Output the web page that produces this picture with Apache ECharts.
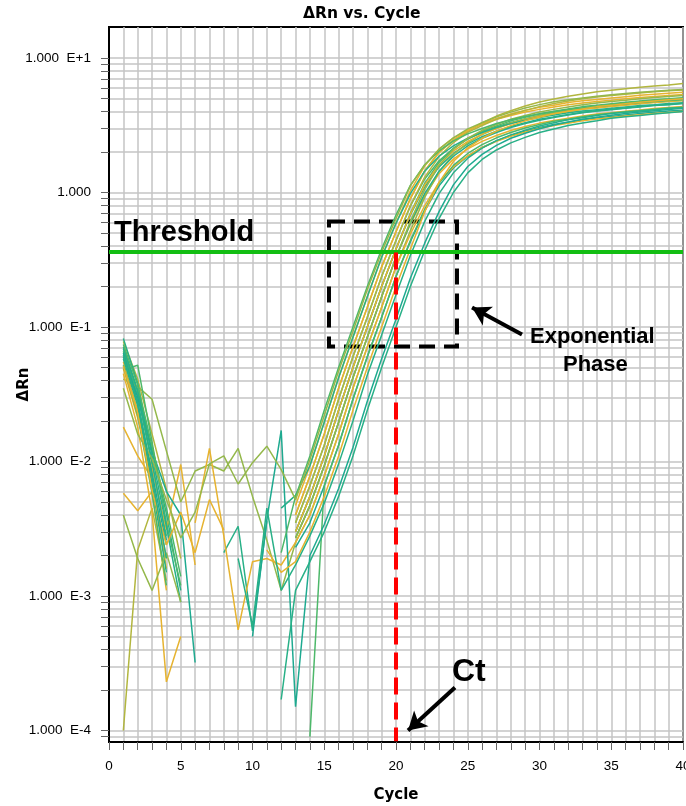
<!DOCTYPE html>
<html>
<head>
<meta charset="utf-8">
<title>ΔRn vs. Cycle</title>
<script src="https://cdn.jsdelivr.net/npm/echarts@6/dist/echarts.min.js"></script>
<style>
    html, body { margin: 0; padding: 0; background: #fff; }
    #ampChart { width: 686px; height: 806px; }
</style>
</head>
<body>
<div id="ampChart"></div>
<script>
    // x: PCR cycles
    const cycles = [1, 2, 3, 4, 5, 6, 7, 8, 9, 10, 11, 12, 13, 14, 15, 16, 17, 18, 19, 20,
        21, 22, 23, 24, 25, 26, 27, 28, 29, 30, 31, 32, 33, 34, 35, 36, 37, 38, 39, 40]

    // tick labels
    const xLabelTicks = [0, 5, 10, 15, 20, 25, 30, 35, 40]
    const decadeTicks = [1e-4, 1e-3, 1e-2, 1e-1, 1, 10]
    const decadeLabels = ['1.000  E-4', '1.000  E-3', '1.000  E-2', '1.000  E-1', '1.000', '1.000  E+1']

    // annotations (data units)
    const threshold = 0.358
    const ctCycle = 20
    const expBox = [[15.33, 0.609], [24.25, 0.0716]]
    const expArrow = [[28.78, 0.0879], [25.3, 0.1396]]
    const ctArrow = [[24.11, 0.000209], [20.84, 0.0001]]

    // ΔRn per well, one value per cycle (null = below zero, not drawn on log scale)
    const rn01 = [0.055, 0.024, 0.0072, 0.0019, null, null, null, null, null, null, null, null, 0.0047,
        0.0093, 0.0196, 0.042, 0.084, 0.168, 0.33, 0.59, 1.03, 1.58, 2.1, 2.55, 2.91, 3.21, 3.5, 3.74,
        3.97, 4.15, 4.32, 4.5, 4.63, 4.75, 4.86, 4.98, 5.09, 5.18, 5.27, 5.35]
    const rn02 = [0.078, 0.041, 0.016, 0.0062, 0.0019, null, null, null, null, null, null, null, 0.004,
        0.0078, 0.016, 0.035, 0.071, 0.14, 0.28, 0.51, 0.9, 1.45, 2.0, 2.45, 2.85, 3.3, 3.7, 4.05,
        4.4, 4.7, 4.95, 5.2, 5.4, 5.6, 5.75, 5.9, 6.05, 6.2, 6.3, 6.45]
    const rn03 = [0.066, 0.031, 0.0095, 0.0028, null, null, null, null, null, null, null, null, 0.0035,
        0.0066, 0.0132, 0.029, 0.06, 0.118, 0.237, 0.44, 0.79, 1.26, 1.72, 2.13, 2.5, 2.8, 3.07, 3.31,
        3.52, 3.72, 3.87, 4.03, 4.18, 4.28, 4.39, 4.49, 4.6, 4.69, 4.77, 4.84]
    const rn04 = [0.071, 0.034, 0.012, 0.0041, 0.0011, null, null, null, null, null, null, null, 0.003,
        0.0055, 0.011, 0.024, 0.05, 0.1, 0.2, 0.38, 0.68, 1.1, 1.55, 1.95, 2.3, 2.6, 2.85, 3.1,
        3.3, 3.5, 3.65, 3.8, 3.95, 4.05, 4.15, 4.25, 4.35, 4.45, 4.52, 4.6]
    const rn05 = [0.049, 0.021, 0.0088, 0.0031, 0.0095, 0.0017, null, null, null, null, null, null, 0.0027,
        0.0047, 0.0093, 0.0196, 0.042, 0.084, 0.168, 0.33, 0.58, 0.95, 1.38, 1.77, 2.11, 2.4, 2.65, 2.89,
        3.09, 3.28, 3.43, 3.57, 3.71, 3.83, 3.92, 4.02, 4.11, 4.21, 4.28, 4.35]
    const rn06 = [0.041, 0.036, 0.029, 0.012, 0.005, 0.0085, 0.0095, 0.0085, 0.0125, 0.0055, 0.0026, 0.0011, 0.0025,
        0.004, 0.0078, 0.016, 0.035, 0.071, 0.14, 0.28, 0.52, 0.92, 1.43, 1.92, 2.34, 2.7, 3.0, 3.28,
        3.52, 3.74, 3.94, 4.09, 4.27, 4.4, 4.51, 4.62, 4.73, 4.84, 4.93, 5.02]
    const rn07 = [0.06, 0.03, 0.012, 0.006, 0.004, 0.00032, null, null, null, null, null, null, 0.0023,
        0.0035, 0.0066, 0.0132, 0.029, 0.06, 0.118, 0.237, 0.43, 0.73, 1.12, 1.52, 1.86, 2.16, 2.42, 2.65,
        2.86, 3.04, 3.2, 3.33, 3.47, 3.59, 3.68, 3.77, 3.86, 3.95, 4.03, 4.09]
    const rn08 = [0.018, 0.011, 0.0075, 0.0016, null, null, null, null, null, null, null, null, 0.004,
        0.0078, 0.016, 0.035, 0.071, 0.14, 0.28, 0.51, 0.9, 1.44, 1.98, 2.45, 2.88, 3.24, 3.55, 3.84,
        4.08, 4.3, 4.46, 4.66, 4.8, 4.92, 5.04, 5.16, 5.28, 5.38, 5.47, 5.56]
    const rn09 = [0.048, 0.052, 0.014, 0.0035, 0.0012, null, null, null, null, null, null, null, 0.003,
        0.0055, 0.011, 0.024, 0.05, 0.1, 0.2, 0.38, 0.7, 1.17, 1.67, 2.12, 2.51, 2.85, 3.13, 3.41,
        3.63, 3.85, 4.02, 4.18, 4.35, 4.46, 4.57, 4.68, 4.79, 4.9, 4.97, 5.06]
    const rn10 = [0.058, 0.026, 0.0068, 0.0015, null, null, null, 0.0021, 0.0033, 0.00055, 0.0036, null, 0.0027,
        0.0047, 0.0093, 0.0196, 0.042, 0.084, 0.168, 0.33, 0.59, 0.98, 1.44, 1.86, 2.22, 2.53, 2.79, 3.04,
        3.25, 3.45, 3.61, 3.76, 3.91, 4.03, 4.13, 4.23, 4.33, 4.43, 4.5, 4.58]
    const rn11 = [0.0058, 0.0043, 0.006, 0.0011, null, 0.0035, 0.0125, 0.0028, 0.00056, 0.0018, 0.0019, 0.0017, 0.0025,
        0.004, 0.0078, 0.016, 0.035, 0.071, 0.14, 0.28, 0.49, 0.8, 1.19, 1.55, 1.87, 2.16, 2.4, 2.62,
        2.82, 2.99, 3.15, 3.27, 3.41, 3.52, 3.61, 3.7, 3.78, 3.87, 3.94, 4.01]
    const rn12 = [0.0001, 0.0022, 0.0045, 0.0013, null, null, null, null, null, null, null, null, 0.0035,
        0.0066, 0.0132, 0.029, 0.06, 0.118, 0.237, 0.44, 0.8, 1.3, 1.85, 2.35, 2.8, 3.15, 3.5, 3.8,
        4.08, 4.35, 4.58, 4.78, 4.97, 5.12, 5.26, 5.38, 5.5, 5.6, 5.7, 5.78]
    const rn13 = [0.052, 0.022, 0.0058, 0.0012, null, null, null, null, null, null, null, null, null,
        0.00009, 0.0066, 0.0132, 0.029, 0.06, 0.118, 0.237, 0.44, 0.75, 1.17, 1.59, 1.95, 2.27, 2.55, 2.79,
        3.02, 3.2, 3.38, 3.51, 3.66, 3.78, 3.88, 3.98, 4.07, 4.16, 4.25, 4.31]
    const rn14 = [0.045, 0.018, 0.0042, 0.00023, 0.0005, null, null, null, null, null, null, null, 0.003,
        0.0055, 0.011, 0.024, 0.05, 0.1, 0.2, 0.38, 0.69, 1.14, 1.61, 2.03, 2.4, 2.72, 2.99, 3.26,
        3.47, 3.68, 3.83, 3.99, 4.15, 4.25, 4.36, 4.46, 4.57, 4.67, 4.75, 4.83]
    const rn15 = [0.082, 0.038, 0.011, 0.0033, 0.0009, null, null, null, null, null, null, 0.0045, 0.0056,
        0.0093, 0.0196, 0.042, 0.084, 0.168, 0.33, 0.59, 0.98, 1.44, 1.86, 2.22, 2.53, 2.79, 3.04, 3.25,
        3.45, 3.61, 3.76, 3.91, 4.03, 4.13, 4.23, 4.33, 4.43, 4.5, 4.58, 4.65]
    const rn16 = [0.064, 0.028, 0.0082, 0.0024, null, null, null, null, null, 0.0005, 0.0037, 0.017, 0.00015,
        0.002, 0.0034, 0.0063, 0.0127, 0.028, 0.058, 0.114, 0.23, 0.42, 0.72, 1.14, 1.56, 1.92, 2.24, 2.53,
        2.76, 2.98, 3.17, 3.34, 3.5, 3.63, 3.76, 3.87, 3.96, 4.06, 4.14, 4.23]
    const rn17 = [0.069, 0.033, 0.01, 0.0026, null, null, null, null, null, null, null, 0.00017, 0.0011,
        0.0018, 0.003, 0.0055, 0.011, 0.024, 0.05, 0.1, 0.2, 0.37, 0.64, 1.0, 1.4, 1.76, 2.07, 2.34,
        2.57, 2.79, 2.97, 3.15, 3.29, 3.42, 3.56, 3.65, 3.74, 3.83, 3.92, 4.0]
    const rn18 = [0.004, 0.0019, 0.0011, 0.0021, 0.0009, null, null, null, null, null, null, null, 0.0027,
        0.0047, 0.0093, 0.0196, 0.042, 0.084, 0.168, 0.33, 0.61, 1.05, 1.59, 2.09, 2.53, 2.9, 3.2, 3.5,
        3.74, 3.97, 4.15, 4.32, 4.5, 4.63, 4.75, 4.86, 4.98, 5.09, 5.18, 5.27]
    const rn19 = [0.074, 0.037, 0.013, 0.0045, 0.0014, null, null, null, null, null, null, 0.0021, 0.0055,
        0.011, 0.024, 0.05, 0.1, 0.2, 0.38, 0.68, 1.13, 1.61, 2.04, 2.42, 2.73, 2.99, 3.26, 3.47,
        3.68, 3.83, 3.99, 4.15, 4.25, 4.36, 4.46, 4.57, 4.67, 4.75, 4.83, 4.89]
    const rn20 = [0.051, 0.023, 0.0061, 0.0024, 0.0042, 0.0021, 0.0052, 0.0031, null, null, 0.0022, 0.0015, 0.0018,
        0.003, 0.0055, 0.011, 0.024, 0.05, 0.1, 0.2, 0.38, 0.72, 1.19, 1.7, 2.15, 2.53, 2.86, 3.14,
        3.41, 3.63, 3.85, 4.02, 4.18, 4.35, 4.46, 4.57, 4.68, 4.79, 4.9, 4.97]
    const rn21 = [0.035, 0.016, 0.0105, 0.0052, 0.0027, 0.0042, 0.0096, 0.011, 0.0068, 0.0098, 0.013, 0.0087, 0.0052,
        0.0103, 0.022, 0.047, 0.093, 0.19, 0.36, 0.64, 1.12, 1.6, 2.1, 2.55, 2.97, 3.3, 3.65, 3.96,
        4.25, 4.5, 4.72, 4.9, 5.05, 5.2, 5.32, 5.44, 5.56, 5.66, 5.75, 5.84]
    const rn22 = [0.062, 0.027, 0.0077, 0.0019, null, null, null, null, 0.0019, 0.0006, 0.0045, 0.0011, 0.0017,
        0.0028, 0.0049, 0.0096, 0.02, 0.044, 0.087, 0.174, 0.34, 0.61, 0.98, 1.4, 1.8, 2.14, 2.43, 2.68,
        2.9, 3.12, 3.3, 3.47, 3.6, 3.73, 3.86, 3.95, 4.04, 4.13, 4.22, 4.28]

    const wells = [rn01, rn02, rn03, rn04, rn05, rn06, rn07, rn08, rn09, rn10, rn11,
        rn12, rn13, rn14, rn15, rn16, rn17, rn18, rn19, rn20, rn21, rn22]

    const gold = '#e6b330', olive = '#b2b63f', lime = '#94b84b',
        green = '#4db86a', teal = '#28b087', aqua = '#1eaa90'
    const wellColors = [gold, olive, green, teal, gold, lime, aqua, gold, green, teal, gold,
        olive, green, gold, teal, aqua, teal, lime, green, gold, lime, teal]

    // grid lines at 1..9 of every decade
    let gridValues = []
    decadeTicks.concat([1e-5]).forEach(d => {
        for (let m = 1; m <= 9; m++) gridValues.push(m * d)
    })
    const yMin = 8.21e-5, yMax = 17.0
    gridValues = gridValues.filter(v => v >= yMin && v <= yMax).sort((a, b) => a - b)

    function decadeLabel(v) {
        let e = Math.round(Math.log10(v))
        let i = decadeTicks.findIndex(d => Math.abs(Math.log10(d) - e) < 1e-6)
        if (i < 0 || Math.abs(Math.log10(v) - e) > 1e-6) return ''
        return decadeLabels[i]
    }

    const myChart = echarts.init(document.getElementById('ampChart'))

    let series = wells.map((vals, i) => ({
        name: 'well ' + (i + 1),
        type: 'line',
        data: cycles.map((c, j) => [c, vals[j]]),
        symbol: 'none',
        showSymbol: false,
        silent: true,
        z: 2,
        lineStyle: { color: wellColors[i], width: 1.5 },
        itemStyle: { color: wellColors[i] }
    }))

    // threshold, Ct line, exponential phase box and arrows
    series.push({
        name: 'notes',
        type: 'line',
        data: [],
        silent: true,
        z: 10,
        markArea: {
            silent: true,
            label: { show: false },
            itemStyle: { color: 'rgba(0,0,0,0)', borderColor: '#000', borderWidth: 4, borderType: [16, 9] },
            data: [[{ coord: expBox[0] }, { coord: expBox[1] }]]
        },
        markLine: {
            silent: true,
            symbol: ['none', 'none'],
            label: { show: false },
            data: [
                { yAxis: threshold, lineStyle: { color: '#13be13', width: 4, type: 'solid' } },
                [{ coord: [ctCycle, threshold], lineStyle: { color: '#ff0000', width: 4, type: [17, 8] } },
                    { coord: [ctCycle, 8.3e-5] }],
                [{ coord: expArrow[0], symbol: 'none', lineStyle: { color: '#000', width: 4, type: 'solid' } },
                    { coord: expArrow[1], symbol: 'arrow', symbolSize: [16, 18] }],
                [{ coord: ctArrow[0], symbol: 'none', lineStyle: { color: '#000', width: 4, type: 'solid' } },
                    { coord: ctArrow[1], symbol: 'arrow', symbolSize: [16, 18] }]
            ]
        }
    })

    myChart.setOption({
        animation: false,
        backgroundColor: '#fff',
        grid: {
            left: 109, right: 3, top: 27, bottom: 64,
            containLabel: false,
            outerBoundsMode: 'none',
            show: true, borderColor: '#000', borderWidth: 2
        },
        xAxis: {
            type: 'value',
            min: 0, max: 40, interval: 1,
            name: 'Cycle',
            nameLocation: 'middle',
            nameGap: 46,
            nameMoveOverlap: false,
            nameTextStyle: { color: '#000', fontFamily: 'DejaVu Sans', fontWeight: 'bold', fontSize: 15 },
            axisLine: { lineStyle: { color: '#000', width: 2 } },
            axisTick: { length: 8, lineStyle: { color: '#666', width: 1 } },
            axisLabel: {
                customValues: xLabelTicks,
                margin: 17,
                color: '#000', fontFamily: 'Liberation Sans', fontSize: 13.5,
                formatter: v => (v % 5 === 0 ? String(v) : '')
            },
            splitLine: { show: true, lineStyle: { color: '#c4c4c4', width: 1.5 } }
        },
        yAxis: {
            type: 'log',
            min: yMin, max: yMax,
            name: 'ΔRn',
            nameLocation: 'middle',
            nameGap: 77,
            nameRotate: 90,
            nameMoveOverlap: false,
            nameTextStyle: { color: '#000', fontFamily: 'DejaVu Sans', fontWeight: 'bold', fontSize: 15 },
            axisLine: { show: true, lineStyle: { color: '#000', width: 2 } },
            axisTick: { show: true, customValues: gridValues, length: 8, lineStyle: { color: '#666', width: 1 } },
            axisLabel: {
                customValues: decadeTicks,
                margin: 18,
                color: '#000', fontFamily: 'Liberation Sans', fontSize: 13.5,
                formatter: decadeLabel
            },
            splitLine: { show: true, lineStyle: { color: '#c4c4c4', width: 1.5 } }
        },
        graphic: [
            { type: 'text', left: 303, top: 6,
                style: { text: 'ΔRn vs. Cycle', fill: '#000', font: 'bold 15.5px "DejaVu Sans"' } },
            { type: 'text', left: 114, top: 218, z: 20,
                style: { text: 'Threshold', fill: '#000', font: 'bold 29px "Liberation Sans"' } },
            { type: 'text', left: 530, top: 326, z: 20,
                style: { text: 'Exponential', fill: '#000', font: 'bold 22px "Liberation Sans"' } },
            { type: 'text', left: 563, top: 354, z: 20,
                style: { text: 'Phase', fill: '#000', font: 'bold 22px "Liberation Sans"' } },
            { type: 'text', left: 452, top: 656, z: 20,
                style: { text: 'Ct', fill: '#000', font: 'bold 32px "Liberation Sans"' } }
        ],
        series: series
    })
</script>
</body>
</html>
